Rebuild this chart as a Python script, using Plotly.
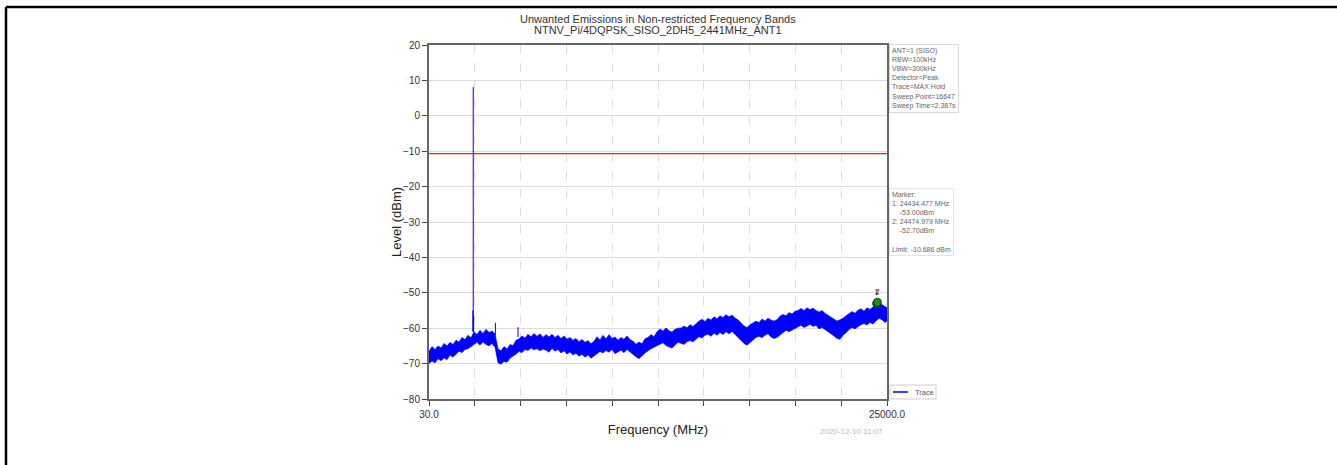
import plotly.graph_objects as go

# ---------------- data ----------------
FREQ_MHZ = [30, 194, 357, 521, 684, 848, 1011, 1175, 1338, 1502,
            1666, 1829, 1993, 2156, 2320, 2483, 2647, 2810, 2974, 3138,
            3301, 3465, 3628, 3792, 3955, 4119, 4282, 4446, 4610, 4773,
            4937, 5100, 5264, 5427, 5591, 5755, 5918, 6082, 6245, 6409,
            6572, 6736, 6900, 7063, 7227, 7390, 7554, 7717, 7881, 8044,
            8208, 8372, 8535, 8699, 8862, 9026, 9189, 9353, 9516, 9680,
            9844, 10007, 10171, 10334, 10498, 10661, 10825, 10989, 11152, 11316,
            11479, 11643, 11806, 11970, 12134, 12297, 12461, 12624, 12788, 12951,
            13115, 13278, 13442, 13606, 13769, 13933, 14096, 14260, 14423, 14587,
            14750, 14914, 15078, 15241, 15405, 15568, 15732, 15895, 16059, 16223,
            16386, 16550, 16713, 16877, 17040, 17204, 17367, 17531, 17695, 17858,
            18022, 18185, 18349, 18512, 18676, 18839, 19003, 19167, 19330, 19494,
            19657, 19821, 19984, 20148, 20312, 20475, 20639, 20802, 20966, 21129,
            21293, 21456, 21620, 21784, 21947, 22111, 22274, 22438, 22601, 22765,
            22928, 23092, 23256, 23419, 23583, 23746, 23910, 24073, 24237, 24401,
            24564, 24728, 24891, 25000]
UPPER_DBM = [-66.5, -65.2, -66.0, -65.0, -65.6, -64.3, -65.0, -64.0, -64.6, -63.4,
             -63.9, -62.6, -63.2, -62.0, -62.7, -61.0, -61.8, -60.6, -61.5, -60.3,
             -61.2, -60.8, -61.6, -65.8, -66.4, -65.2, -65.9, -64.6, -64.9, -63.4,
             -63.0, -62.2, -62.8, -61.7, -62.4, -61.5, -62.3, -61.6, -62.6, -61.8,
             -62.5, -61.7, -62.6, -62.0, -62.9, -62.2, -63.1, -62.6, -63.4, -62.9,
             -63.8, -63.2, -64.0, -63.5, -64.4, -63.7, -62.4, -63.3, -62.0, -63.0,
             -61.8, -62.9, -62.5, -63.4, -62.6, -63.1, -62.2, -63.2, -63.7, -64.5,
             -63.9, -64.4, -63.0, -62.6, -61.8, -62.4, -61.0, -60.2, -60.8, -59.9,
             -60.7, -61.1, -60.3, -60.0, -60.0, -59.4, -59.9, -59.0, -59.5, -58.6,
             -58.0, -57.5, -58.1, -57.2, -57.7, -56.8, -57.3, -56.5, -57.0, -56.2,
             -56.8, -56.3, -57.1, -57.6, -58.6, -59.4, -59.8, -59.0, -58.5, -58.0,
             -58.4, -57.4, -58.0, -57.2, -57.7, -58.0, -57.6, -56.6, -56.1, -56.5,
             -55.6, -56.0, -55.2, -55.0, -54.4, -55.0, -54.2, -54.8, -54.3, -55.0,
             -55.4, -55.0, -55.8, -56.3, -57.0, -57.4, -58.0, -57.6, -57.2, -56.5,
             -56.0, -55.3, -55.8, -54.9, -54.5, -55.2, -54.2, -54.7, -54.0, -53.2,
             -52.8, -53.3, -53.8, -54.2]
LOWER_DBM = [-70.0, -69.3, -69.8, -68.6, -69.2, -68.4, -68.9, -67.6, -68.2, -67.3,
             -66.5, -66.9, -66.0, -65.8, -65.2, -64.6, -64.0, -64.8, -63.9, -64.6,
             -65.0, -64.3, -65.4, -69.8, -70.2, -69.4, -69.6, -68.5, -68.0, -67.3,
             -66.6, -66.9, -66.0, -66.3, -65.6, -66.1, -65.8, -66.4, -65.9, -66.2,
             -66.8, -65.7, -66.5, -66.0, -67.0, -66.4, -67.3, -66.7, -67.6, -67.1,
             -67.9, -67.4, -68.2, -67.6, -68.5, -67.9, -67.2, -66.6, -67.0, -66.3,
             -66.8, -66.0, -67.2, -66.8, -66.2, -66.9, -66.0, -66.7, -67.5, -68.1,
             -68.6, -67.8, -67.0, -66.3, -65.8, -65.4, -65.1, -64.6, -64.1, -64.9,
             -65.3, -65.6, -64.8, -64.0, -64.2, -64.6, -63.8, -63.5, -63.9, -63.2,
             -62.4, -62.8, -62.0, -61.7, -62.3, -61.4, -62.0, -61.2, -61.8, -61.0,
             -61.6, -60.9, -61.8, -62.6, -63.5, -64.3, -64.8, -64.0, -63.4, -62.6,
             -62.3, -62.7, -62.0, -61.6, -62.5, -62.9, -62.6, -61.8, -61.2, -60.6,
             -61.0, -60.4, -60.0, -59.6, -59.2, -59.8, -59.4, -58.9, -59.5, -59.2,
             -60.2, -59.8, -60.6, -61.0, -61.6, -62.2, -62.9, -63.1, -62.0, -61.3,
             -60.4, -59.8, -60.2, -59.6, -59.0, -58.7, -59.1, -58.4, -58.8, -58.0,
             -57.2, -57.6, -58.4, -58.0]

SPIKE_FREQ = [2420.0, 2441.0, 2462.0, 3650.0, 4882.0]
SPIKE_TOP = [-55.0, 8.1, -56.5, -58.5, -59.7]
SPIKE_BASE = [-61.0, -61.0, -61.0, -62.0, -62.5]

LIMIT_DBM = -10.686
MARKER_FREQ = [24434.477, 24474.979]
MARKER_LEVEL = [-53.00, -52.70]
MARKER_LABELS = ["1", "2"]

X_RANGE = [30.0, 25000.0]
X_TICKS = [30.0, 2527.0, 5024.0, 7521.0, 10018.0, 12515.0, 15012.0, 17509.0, 20006.0, 22503.0, 25000.0]
X_TICK_TEXT = ["30.0", "", "", "", "", "", "", "", "", "", "25000.0"]
Y_TICKS = [20, 10, 0, -10, -20, -30, -40, -50, -60, -70, -80]

TITLE_1 = "Unwanted Emissions in Non-restricted Frequency Bands"
TITLE_2 = "NTNV_Pi/4DQPSK_SISO_2DH5_2441MHz_ANT1"
INFO_LINES = ["ANT=1 (SISO)", "RBW=100kHz", "VBW=300kHz", "Detector=Peak",
              "Trace=MAX Hold", "Sweep Point=16647", "Sweep Time=2.387s"]
MARKER_LINES = ["Marker:", "1: 24434.477 MHz", "&nbsp;&nbsp;&nbsp;&nbsp;-53.00dBm",
                "2: 24474.979 MHz", "&nbsp;&nbsp;&nbsp;&nbsp;-52.70dBm", "&nbsp;",
                "Limit: -10.686 dBm"]
DATE_TEXT = "2020-12-10 11:07"

# ---------------- layout geometry ----------------
W, H = 1337, 465
PL, PR, PT, PB = 429, 887, 45, 399


def X(px):
    return (px - PL) / (PR - PL)


def Y(py):
    return (PB - py) / (PB - PT)


BLUE = "#0000ff"
FONT = "Liberation Sans, Arial, sans-serif"

fig = go.Figure()

# noise band (envelope polygon)
fig.add_trace(go.Scatter(
    x=FREQ_MHZ + FREQ_MHZ[::-1],
    y=UPPER_DBM + LOWER_DBM[::-1],
    mode="lines", fill="toself", fillcolor=BLUE,
    line=dict(color=BLUE, width=0.6), hoverinfo="skip", showlegend=False))

# spikes
sx, sy = [], []
for f, top, base in zip(SPIKE_FREQ, SPIKE_TOP, SPIKE_BASE):
    sx += [f, f, None]
    sy += [base, top, None]
fig.add_trace(go.Scatter(x=sx, y=sy, mode="lines", line=dict(color=BLUE, width=1),
                         name="Trace", showlegend=False))

# limit line
fig.add_trace(go.Scatter(x=X_RANGE, y=[LIMIT_DBM, LIMIT_DBM], mode="lines",
                         line=dict(color="#ff1a1a", width=1.2), showlegend=False))

# markers
fig.add_trace(go.Scatter(
    x=MARKER_FREQ, y=MARKER_LEVEL, mode="markers+text", text=MARKER_LABELS,
    textposition="top center", textfont=dict(size=8, color="#222", family=FONT),
    marker=dict(color="#1f8a1f", size=8, line=dict(color="#0b3d0b", width=1)),
    showlegend=False))

fig.update_layout(
    width=W, height=H,
    margin=dict(l=PL, r=W - PR, t=PT, b=H - PB, pad=0),
    plot_bgcolor="white", paper_bgcolor="white",
    showlegend=False,
    font=dict(family=FONT, color="#333"),
)

fig.update_xaxes(
    range=X_RANGE, tickmode="array", tickvals=X_TICKS, ticktext=X_TICK_TEXT,
    ticks="outside", ticklen=5, tickwidth=1, tickcolor="#444",
    showgrid=True, gridcolor="#dedede", griddash="dash", gridwidth=1,
    showline=True, linecolor="#666", linewidth=2, mirror=True,
    tickfont=dict(size=10, color="#333", family=FONT),
    title=dict(text="Frequency (MHz)", font=dict(size=13, color="#222", family=FONT), standoff=6),
    zeroline=False,
)
fig.update_yaxes(
    range=[-80, 20], tickmode="array", tickvals=Y_TICKS,
    ticks="outside", ticklen=5, tickwidth=1, tickcolor="#444",
    showgrid=True, gridcolor="#dcdcdc", gridwidth=1,
    showline=True, linecolor="#666", linewidth=2, mirror=True,
    tickfont=dict(size=10, color="#333", family=FONT),
    zeroline=False,
)


def note(px, py, text, size, color, **kw):
    d = dict(x=X(px), y=Y(py), xref="paper", yref="paper", text=text, showarrow=False,
             xanchor="center", yanchor="middle", font=dict(size=size, color=color, family=FONT))
    d.update(kw)
    return d


ann = [
    note(658, 19, TITLE_1, 11, "#333"),
    note(658, 30, TITLE_2, 11, "#333"),
    note(396, 222, "Level (dBm)", 13, "#222", textangle=-90),
    note(889, 44, "<br>".join(INFO_LINES), 7, "#666", xanchor="left", yanchor="top",
         align="left", bordercolor="#d8d8d8", borderwidth=1, borderpad=2, bgcolor="white"),
    note(889, 188, "<br>".join(MARKER_LINES), 7, "#666", xanchor="left", yanchor="top",
         align="left", bordercolor="#e4e4e4", borderwidth=1, borderpad=2, bgcolor="white"),
    note(851, 431, DATE_TEXT, 8, "#bbb"),
    note(913, 392, "Trace", 7.5, "#555", xanchor="left"),
]

shapes = [
    dict(type="rect", xref="paper", yref="paper", x0=X(890), x1=X(936), y0=Y(399), y1=Y(385),
         line=dict(color="#d0d0d0", width=1), fillcolor="white"),
    dict(type="line", xref="paper", yref="paper", x0=X(893), x1=X(908), y0=Y(392), y1=Y(392),
         line=dict(color=BLUE, width=1.5)),
    # outer black frame (left and top)
    dict(type="line", xref="paper", yref="paper", x0=X(6), x1=X(1340), y0=Y(7), y1=Y(7),
         line=dict(color="black", width=2.5)),
    dict(type="line", xref="paper", yref="paper", x0=X(6), x1=X(6), y0=Y(7), y1=Y(470),
         line=dict(color="black", width=2.5)),
]

fig.update_layout(annotations=ann, shapes=shapes)
fig.write_html("out.html", config={"displayModeBar": False},
               post_script="document.body.style.margin='0';")
